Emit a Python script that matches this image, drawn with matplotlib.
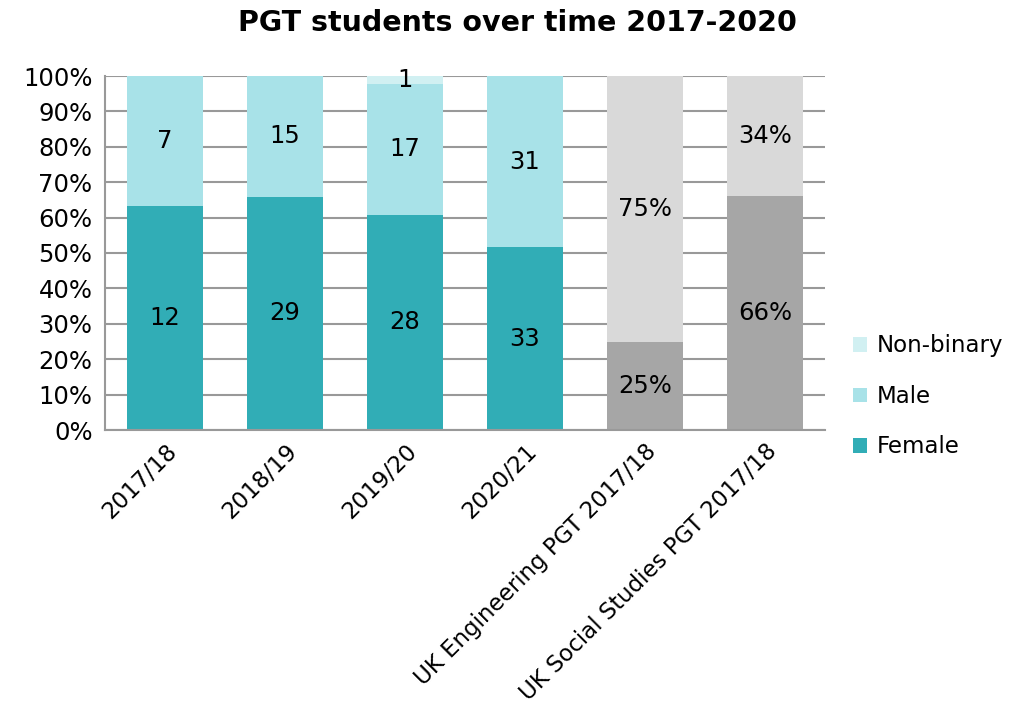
import matplotlib.pyplot as plt
import numpy as np

categories = ["2017/18", "2018/19", "2019/20", "2020/21",
              "UK Engineering PGT 2017/18", "UK Social Studies PGT 2017/18"]
female = [12, 29, 28, 33]
male = [7, 15, 17, 31]
nonbinary = [0, 0, 1, 0]
uk_lower = [25, 66]
uk_upper = [75, 34]

c_female = "#31adb6"
c_male = "#a8e2e8"
c_nb = "#d1f0f2"
c_dark = "#a6a6a6"
c_light = "#d9d9d9"

plt.rcParams['font.family'] = ['DejaVu Sans']

fig = plt.figure(figsize=(10.19, 7.22), dpi=100)
ax = fig.add_axes([105 / 1019, 1 - 430 / 722, 720 / 1019, 354 / 722])

x = np.arange(len(categories))
w = 0.64

# student counts -> shares
f = np.array(female, float)
m = np.array(male, float)
nb = np.array(nonbinary, float)
tot = f + m + nb
fp, mp, nbp = f / tot, m / tot, nb / tot

xs = x[:4]
ax.bar(xs, fp, w, color=c_female, label="Female", zorder=2)
ax.bar(xs, mp, w, bottom=fp, color=c_male, label="Male", zorder=2)
ax.bar(xs, nbp, w, bottom=fp + mp, color=c_nb, label="Non-binary", zorder=2)

lo = np.array(uk_lower) / 100
hi = np.array(uk_upper) / 100
xu = x[4:]
ax.bar(xu, lo, w, color=c_dark, zorder=2)
ax.bar(xu, hi, w, bottom=lo, color=c_light, zorder=2)

fs = 17.5
for i in range(4):
    ax.text(xs[i], fp[i] / 2, str(female[i]), ha='center', va='center', fontsize=fs, zorder=3)
    ax.text(xs[i], fp[i] + mp[i] / 2, str(male[i]), ha='center', va='center', fontsize=fs, zorder=3)
    if nonbinary[i]:
        ax.text(xs[i], fp[i] + mp[i] + nbp[i] / 2, str(nonbinary[i]),
                ha='center', va='center', fontsize=fs, zorder=3)
for j in range(2):
    ax.text(xu[j], lo[j] / 2, f"{uk_lower[j]}%", ha='center', va='center', fontsize=fs, zorder=3)
    ax.text(xu[j], lo[j] + hi[j] / 2, f"{uk_upper[j]}%", ha='center', va='center', fontsize=fs, zorder=3)

ax.set_xlim(-0.5, len(categories) - 0.5)
ax.set_ylim(0, 1)
ax.set_yticks(np.arange(0, 1.01, 0.1))
ax.set_yticklabels([f"{v}%" for v in range(0, 101, 10)], fontsize=fs)
ax.set_xticks(x)
ax.set_xticklabels(categories, rotation=45, ha='right', rotation_mode='anchor', fontsize=16.5)
ax.tick_params(axis='y', length=0, pad=9)
ax.tick_params(axis='x', length=0, pad=7)
ax.yaxis.grid(True, color='#999999', linewidth=1.5, zorder=1)
for s in ['top', 'right']:
    ax.spines[s].set_visible(False)
for s in ['left', 'bottom']:
    ax.spines[s].set_color('#999999')
    ax.spines[s].set_linewidth(1.5)

h, l = ax.get_legend_handles_labels()
ax.legend(h[::-1], l[::-1], loc='center left', bbox_to_anchor=(1.01, 0.095), frameon=False,
          fontsize=16.5, handlelength=0.6, handleheight=0.6, labelspacing=1.2, handletextpad=0.45)

fig.suptitle("PGT students over time 2017-2020", fontsize=20.5, fontweight='bold', x=0.508, y=0.988)

fig.savefig("out.png", dpi=100)
